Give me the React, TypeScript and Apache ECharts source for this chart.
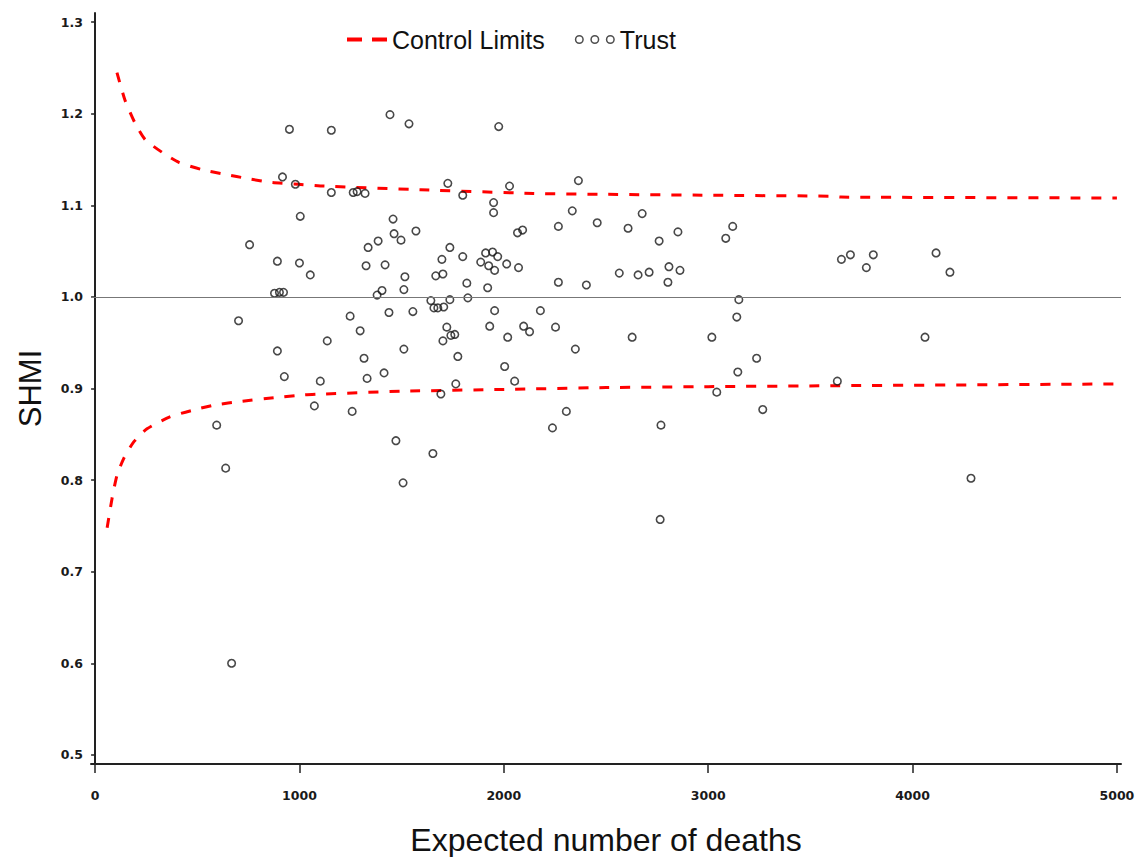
import React, { useEffect, useRef } from "react";
import * as echarts from "echarts";

// Trust points: expected number of deaths (x) and SHMI (y)
const expectedDeaths = [
  951, 1156, 1443, 1536, 1975, 917, 980, 1156, 1263, 1282, 1321, 1726, 1799, 2028, 2365,
  1950, 1950, 1004, 1458, 1570, 2335, 2457, 2677, 2267, 2608, 2852, 2067, 2092, 3086, 3120,
  756, 1336, 1385, 1463, 1497, 1736, 1697, 1799, 1911, 1945, 1970, 1887, 1926, 1955, 2014,
  2072, 1516, 1511, 1667, 1702, 1819, 1921, 2267, 1643, 1658, 1677, 1706, 1736, 1824, 1555,
  1955, 2179, 1721, 1931, 2097, 2126, 2253, 1741, 1760, 1702, 2019, 1511, 1775, 892, 1000,
  1053, 878, 902, 922, 1326, 1419, 1380, 1404, 702, 1248, 1297, 1438, 1136, 892, 1316,
  926, 1102, 1331, 1414, 1073, 2404, 2565, 2657, 2711, 2808, 2862, 2803, 3150, 3140, 2628,
  3018, 2350, 2004, 2053, 3237, 3145, 3042, 2306, 3267, 2238, 2769, 2760, 3652, 3696, 3808,
  3774, 4115, 4183, 4061, 3632, 4286, 595, 639, 668, 1472, 1653, 1507, 2765, 1765, 1692,
  1258,
];
const shmiValues = [
  1.183, 1.182, 1.199, 1.189, 1.186, 1.131, 1.123, 1.114, 1.114, 1.115, 1.113, 1.124, 1.111, 1.121, 1.127,
  1.103, 1.092, 1.088, 1.085, 1.072, 1.094, 1.081, 1.091, 1.077, 1.075, 1.071, 1.07, 1.073, 1.064, 1.077,
  1.057, 1.054, 1.061, 1.069, 1.062, 1.054, 1.041, 1.044, 1.048, 1.049, 1.044, 1.038, 1.034, 1.029, 1.036,
  1.032, 1.022, 1.008, 1.023, 1.025, 1.015, 1.01, 1.016, 0.996, 0.988, 0.988, 0.989, 0.997, 0.999, 0.984,
  0.985, 0.985, 0.967, 0.968, 0.968, 0.962, 0.967, 0.958, 0.959, 0.952, 0.956, 0.943, 0.935, 1.039, 1.037,
  1.024, 1.004, 1.005, 1.005, 1.034, 1.035, 1.002, 1.007, 0.974, 0.979, 0.963, 0.983, 0.952, 0.941, 0.933,
  0.913, 0.908, 0.911, 0.917, 0.881, 1.013, 1.026, 1.024, 1.027, 1.033, 1.029, 1.016, 0.997, 0.978, 0.956,
  0.956, 0.943, 0.924, 0.908, 0.933, 0.918, 0.896, 0.875, 0.877, 0.857, 0.86, 1.061, 1.041, 1.046, 1.046,
  1.032, 1.048, 1.027, 0.956, 0.908, 0.802, 0.86, 0.813, 0.6, 0.843, 0.829, 0.797, 0.757, 0.905, 0.894,
  0.875,
];

// Control limits
const upperX = [107, 146, 195, 244, 327, 410, 522, 634, 751, 863, 995, 1121, 1594, 2145, 2500, 3000, 3600, 3650, 5000];
const upperY = [1.245, 1.215, 1.19, 1.172, 1.158, 1.147, 1.139, 1.134, 1.129, 1.125, 1.123, 1.121, 1.117, 1.113, 1.112, 1.111, 1.11, 1.109, 1.108];
const lowerX = [59, 83, 107, 141, 190, 254, 366, 473, 585, 717, 878, 1024, 1121, 1500, 2000, 2500, 3000, 3600, 5000];
const lowerY = [0.748, 0.78, 0.805, 0.824, 0.842, 0.856, 0.869, 0.876, 0.882, 0.886, 0.89, 0.893, 0.894, 0.897, 0.899, 0.901, 0.902, 0.903, 0.905];

const referenceLevel = 1.0;
const xTicks = [0, 1000, 2000, 3000, 4000, 5000];
const yTicks = [0.5, 0.6, 0.7, 0.8, 0.9, 1.0, 1.1, 1.2, 1.3];

const TEXT_FONT = "'Liberation Sans', Arial, sans-serif";
const TICK_FONT = "'DejaVu Sans', sans-serif";

const ringPath = (cx: number, cy: number, r: number, ri: number) =>
  `M${cx - r},${cy}a${r},${r} 0 1,0 ${2 * r},0a${r},${r} 0 1,0 ${-2 * r},0Z` +
  `M${cx - ri},${cy}a${ri},${ri} 0 1,1 ${2 * ri},0a${ri},${ri} 0 1,1 ${-2 * ri},0Z`;

const trustIcon =
  "path://" + ringPath(4.5, 4.5, 4.5, 3.0) + ringPath(20, 4.5, 4.5, 3.0) + ringPath(35.5, 4.5, 4.5, 3.0);
const limitsIcon = "path://M0,0H15V4H0Z M25,0H40V4H25Z";

export default function App() {
  const ref = useRef<HTMLDivElement>(null);

  useEffect(() => {
    document.body.style.margin = "0";
    if (!ref.current) return;
    const chart = echarts.init(ref.current, null, { renderer: "svg" });

    const limitLine = {
      type: [10, 11],
      color: "#ff0000",
      width: 3,
    };

    chart.setOption({
      animation: false,
      backgroundColor: "#ffffff",
      grid: { left: 91, right: 14, top: 13, bottom: 93, containLabel: false, outerBoundsMode: "none" },
      legend: {
        left: 347,
        top: 27,
        padding: 0,
        itemWidth: 40,
        itemHeight: 9,
        itemGap: 30,
        textStyle: { fontFamily: TEXT_FONT, fontSize: 25, color: "#111" },
        data: [
          { name: "Control Limits", icon: limitsIcon, itemStyle: { color: "#ff0000", borderWidth: 0 } },
          { name: "Trust", icon: trustIcon, itemStyle: { color: "#222", borderWidth: 0 } },
        ],
      },
      xAxis: {
        type: "value",
        min: -20,
        max: 5020,
        name: "Expected number of deaths",
        nameLocation: "middle",
        nameGap: 60,
        nameTextStyle: { fontFamily: TEXT_FONT, fontSize: 32, color: "#111" },
        axisLine: { show: true, lineStyle: { color: "#222", width: 2 } },
        axisTick: { show: true, length: 9, customValues: xTicks, lineStyle: { color: "#222", width: 1.5 } },
        axisLabel: {
          customValues: xTicks,
          margin: 25,
          fontFamily: TICK_FONT,
          fontWeight: "bold",
          fontSize: 12.5,
          color: "#1a1a1a",
          formatter: (v: number) => String(Math.round(v)),
        },
        splitLine: { show: false },
      },
      yAxis: {
        type: "value",
        min: 0.49,
        max: 1.31,
        name: "SHMI",
        nameLocation: "middle",
        nameRotate: 90,
        nameGap: 45,
        nameTextStyle: { fontFamily: TEXT_FONT, fontSize: 31, color: "#111" },
        axisLine: { show: true, lineStyle: { color: "#222", width: 2 } },
        axisTick: { show: true, length: 4, customValues: yTicks, lineStyle: { color: "#222", width: 1.5 } },
        axisLabel: {
          customValues: yTicks,
          margin: 8,
          fontFamily: TICK_FONT,
          fontWeight: "bold",
          fontSize: 12.5,
          color: "#1a1a1a",
          formatter: (v: number) => v.toFixed(1),
        },
        splitLine: { show: false },
      },
      series: [
        {
          name: "Control Limits",
          type: "line",
          data: upperX.map((x, i) => [x, upperY[i]]),
          symbol: "none",
          smooth: 0.2,
          color: "#ff0000",
          lineStyle: limitLine,
          z: 2,
        },
        {
          name: "Control Limits",
          type: "line",
          data: lowerX.map((x, i) => [x, lowerY[i]]),
          symbol: "none",
          smooth: 0.2,
          color: "#ff0000",
          lineStyle: limitLine,
          z: 2,
        },
        {
          name: "Trust",
          type: "scatter",
          data: expectedDeaths.map((x, i) => [x, shmiValues[i]]),
          symbol: "circle",
          symbolSize: 7.5,
          itemStyle: { color: "rgba(0,0,0,0)", borderColor: "#1a1a1a", borderWidth: 1.6 },
          z: 3,
          markLine: {
            silent: true,
            symbol: ["none", "none"],
            label: { show: false },
            lineStyle: { color: "#777", width: 1, type: "solid" },
            data: [{ yAxis: referenceLevel }],
          },
        },
      ],
    });

    return () => chart.dispose();
  }, []);

  return <div ref={ref} style={{ width: 1135, height: 857 }} />;
}
